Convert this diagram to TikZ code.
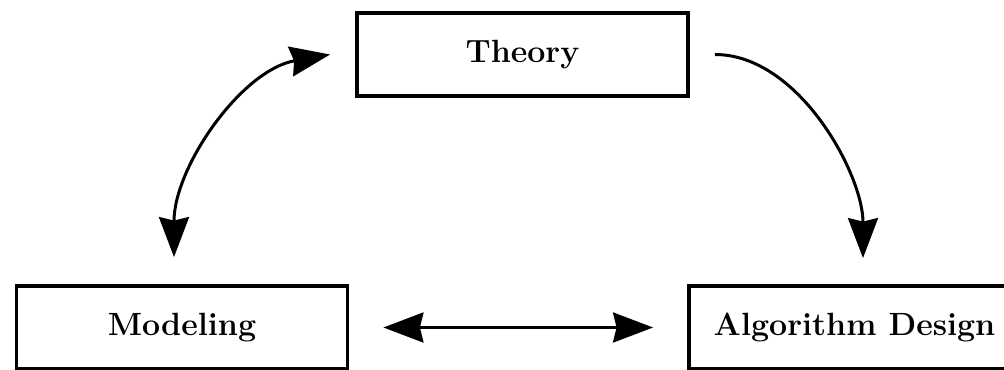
\documentclass[tikz,border=0pt]{standalone}
\usepackage{tikz}
\usetikzlibrary{arrows.meta}

\begin{document}
\begin{tikzpicture}[
  kutu/.style={draw,line width=2.2pt,minimum width=6.62cm,minimum height=1.66cm,inner sep=0pt,
    font=\fontsize{18.3}{22}\selectfont\bfseries},
  ucOk/.tip={Stealth[length=0.8cm,width=0.6cm,inset=0.07cm]},
  ok/.style={line width=1.7pt,-ucOk},
  ciftOk/.style={line width=1.7pt,ucOk-ucOk}]
\useasboundingbox (0,0) rectangle (20.08,7.38);
\node[kutu] (teori) at (10.45,6.29) {Theory};
\node[kutu] (modelleme) at (3.64,0.83) {Modeling};
\node[kutu] (algoritma) at (17.09,0.83) {Algorithm Design};
\draw[ciftOk] ([shift={(-0.16,0.54)}]modelleme.north) to[out=90,in=190,looseness=0.9] ([xshift=-0.5cm]teori.west);
\draw[ok] ([xshift=0.5cm]teori.east) to[out=0,in=90,looseness=0.85] ([shift={(0.17,0.52)}]algoritma.north);
\draw[ciftOk,shorten <=0.68cm,shorten >=0.68cm] (modelleme) -- (algoritma);
\end{tikzpicture}
\end{document}
